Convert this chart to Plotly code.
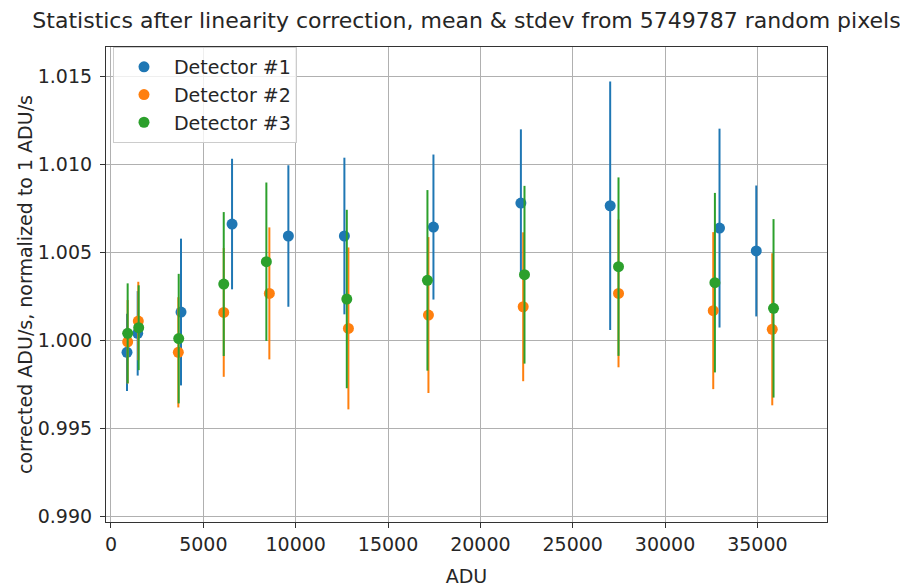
import plotly.graph_objects as go

# values
adu_det1 = [867, 1446, 3792, 6555, 9605, 12638, 17460, 22195, 27030, 32950, 34940]
mean_det1 = [0.99930, 1.00038, 1.00159, 1.00659, 1.00591, 1.00591, 1.00642, 1.00778, 1.00763, 1.00636, 1.00506]
std_det1 = [0.0022, 0.0024, 0.00417, 0.00371, 0.00402, 0.00445, 0.00412, 0.00419, 0.00706, 0.00565, 0.00372]

adu_det2 = [903, 1479, 3646, 6105, 8575, 12855, 17189, 22319, 27481, 32610, 35806]
mean_det2 = [0.99990, 1.00108, 0.99930, 1.00157, 1.00265, 1.00066, 1.00142, 1.00189, 1.00265, 1.00167, 1.00061]
std_det2 = [0.00237, 0.00223, 0.00313, 0.00366, 0.00375, 0.0046, 0.00443, 0.00423, 0.0042, 0.00446, 0.00432]

adu_det3 = [903, 1500, 3667, 6105, 8413, 12768, 17135, 22390, 27481, 32700, 35875]
mean_det3 = [1.00038, 1.00070, 1.00008, 1.00318, 1.00445, 1.00233, 1.00339, 1.00371, 1.00417, 1.00326, 1.00180]
std_det3 = [0.00284, 0.00241, 0.00368, 0.00409, 0.0045, 0.00507, 0.00513, 0.00505, 0.00507, 0.0051, 0.00507]

names = ["Detector #1", "Detector #2", "Detector #3"]
colors = ["#1f77b4", "#ff7f0e", "#2ca02c"]

FONT = "DejaVu Sans"
TXT = "#262626"

fig = go.Figure()
series = [(adu_det1, mean_det1, std_det1), (adu_det2, mean_det2, std_det2), (adu_det3, mean_det3, std_det3)]
for (x, y, e), name, col in zip(series, names, colors):
    fig.add_trace(go.Scatter(
        x=x, y=y, mode="markers", name=name, legendgroup=name,
        marker=dict(color=col, size=11),
        error_y=dict(type="data", array=e, visible=True, color=col, thickness=2, width=0),
    ))

axis_style = dict(
    showline=True, linecolor="#333", linewidth=1.2, mirror=True,
    ticks="outside", ticklen=5, tickcolor="#333", automargin=False,
    showgrid=True, gridcolor="#b0b0b0", gridwidth=1, zeroline=False,
    tickfont=dict(family=FONT, size=19, color=TXT),
)

fig.update_xaxes(range=[-270, 38770], tick0=0, dtick=5000, tickformat="d",
                 title=dict(text="ADU", font=dict(family=FONT, size=19, color=TXT), standoff=17),
                 **axis_style)
fig.update_yaxes(range=[0.98966, 1.01665], tick0=0.99, dtick=0.005, tickformat=".3f",
                 ticklabelstandoff=4,
                 title=dict(text="corrected ADU/s, normalized to 1 ADU/s",
                            font=dict(family=FONT, size=19, color=TXT), standoff=0),
                 **axis_style)

# page body adds an 8px margin, so the figure is a bit smaller than the window
fig.update_layout(
    width=900, height=579,
    margin=dict(l=98, r=81, t=39, b=65),
    paper_bgcolor="white", plot_bgcolor="white",
    font=dict(family=FONT, size=19, color=TXT),
    title=dict(text="Statistics after linearity correction, mean & stdev from 5749787 random pixels",
               x=0.5, xref="paper", xanchor="center", y=0.979, yref="container", yanchor="middle",
               font=dict(family=FONT, size=22, color=TXT)),
    legend=dict(x=0.0097, y=1.0, xanchor="left", yanchor="top",
                bgcolor="rgba(255,255,255,0.8)", bordercolor="#cccccc", borderwidth=1,
                font=dict(family=FONT, size=19, color=TXT), tracegroupgap=0, itemwidth=50),
    showlegend=True,
)

fig.write_html("out.html")
